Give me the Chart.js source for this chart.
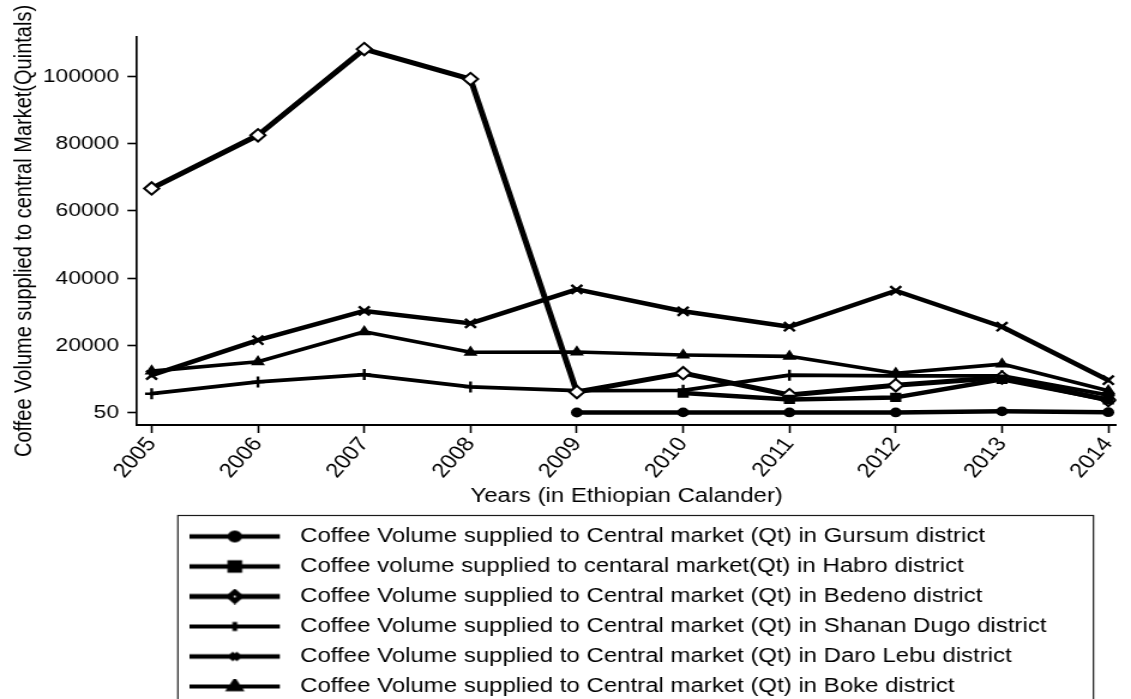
<!DOCTYPE html>
<html><head><meta charset="utf-8">
<script src="https://cdn.jsdelivr.net/npm/chart.js@4/dist/chart.umd.min.js"></script>
<style>html,body{margin:0;padding:0;background:#fff;overflow:hidden}</style>
</head><body>
<canvas id="c" width="943" height="699" style="display:block;width:1131px;height:699px"></canvas>
<script>
const years = [2005, 2006, 2007, 2008, 2009, 2010, 2011, 2012, 2013, 2014];
const yTickValues = [50, 20000, 40000, 60000, 80000, 100000];

const gursum = [null, null, null, null, 120, 150, 130, 140, 450, 200];
const habro  = [null, null, null, null, null, 5900, 4000, 4600, 10000, 3900];
const bedeno = [66700, 82500, 108100, 99200, 6200, 11800, 5300, 8200, 10500, 3800];
const shanan = [5700, 9200, 11400, 7700, 6600, 6700, 11200, 11000, 11000, 5300];
const daro   = [11200, 21600, 30300, 26600, 36700, 30200, 25600, 36300, 25600, 9700];
const boke   = [12400, 15200, 24100, 18000, 18100, 17200, 16800, 11800, 14500, 6600];

const seriesLabels = [
  'Coffee Volume supplied to Central market (Qt) in Gursum district',
  'Coffee volume supplied to centaral market(Qt) in Habro district',
  'Coffee Volume supplied to Central market (Qt) in Bedeno district',
  'Coffee Volume supplied to Central market (Qt) in Shanan Dugo district',
  'Coffee Volume supplied to Central market (Qt) in Daro Lebu district',
  'Coffee Volume supplied to Central market (Qt) in Boke district'
];
const seriesValues = [gursum, habro, bedeno, shanan, daro, boke];
const xTitle = 'Years (in Ethiopian Calander)';
const yTitle = 'Coffee Volume supplied to central Market(Quintals)';

const FONT = "'Liberation Sans', Arial, Helvetica, sans-serif";
const styles = [
  {pointStyle: 'circle',   lineWidth: 4.5, radius: 4.9, fill: '#000', pbw: 0,   lr: 3.9, lw: 4.4},
  {pointStyle: 'rect',     lineWidth: 4.5, radius: 6.6, fill: '#000', pbw: 0,   lr: 5.6, lw: 4.4},
  {pointStyle: 'rectRot',  lineWidth: 5.0, radius: 6.2, fill: '#fff', pbw: 2.0, lr: 4.6, lw: 4.8},
  {pointStyle: 'cross',    lineWidth: 3.8, radius: 5.5, fill: '#000', pbw: 2.4, lr: 4.6, lw: 4.0},
  {pointStyle: 'crossRot', lineWidth: 4.5, radius: 6.4, fill: '#000', pbw: 2.4, lr: 4.6, lw: 4.4},
  {pointStyle: 'triangle', lineWidth: 3.6, radius: 6.8, fill: '#000', pbw: 0,   lr: 5.6, lw: 3.8}
];

function makeSample(st) {
  const cv = document.createElement('canvas');
  cv.width = 82; cv.height = 16;
  const c = cv.getContext('2d');
  c.strokeStyle = '#000';
  c.lineWidth = st.lw;
  c.beginPath(); c.moveTo(0, 8); c.lineTo(75, 8); c.stroke();
  c.fillStyle = st.fill;
  c.strokeStyle = '#000';
  Chart.helpers.drawPoint(c, {pointStyle: st.pointStyle, rotation: 0, radius: st.lr,
    borderWidth: st.pbw > 0 ? st.pbw : 0.01}, 37.5, 8);
  return cv;
}
const samples = styles.map(makeSample);

const datasets = seriesValues.map((vals, i) => ({
  label: seriesLabels[i],
  data: years.map((yr, j) => ({x: yr, y: vals[j]})),
  borderColor: '#000',
  backgroundColor: styles[i].fill,
  borderWidth: styles[i].lineWidth,
  borderJoinStyle: 'round',
  borderCapStyle: 'round',
  tension: 0,
  pointStyle: styles[i].pointStyle,
  pointRadius: styles[i].radius,
  pointHoverRadius: styles[i].radius,
  pointBackgroundColor: styles[i].fill,
  pointBorderColor: '#000',
  pointBorderWidth: styles[i].pbw,
  spanGaps: false
}));

const legendPlacer = {
  id: 'legendPlacer',
  afterLayout(chart) {
    const L = chart.legend;
    const h = L.height;
    L.left = 148.3; L.right = 911.7; L.width = L.right - L.left;
    L.top = 516.5; L.bottom = L.top + h;
  },
  afterDraw(chart) {
    const ctx = chart.ctx;
    ctx.save();
    ctx.strokeStyle = '#1a1a1a';
    ctx.lineWidth = 1.2;
    ctx.strokeRect(148.3, 515.5, 911.7 - 148.3, 400);
    ctx.restore();
  }
};

new Chart(document.getElementById('c'), {
  type: 'line',
  data: {datasets},
  options: {
    responsive: false,
    devicePixelRatio: 1,
    animation: false,
    events: [],
    layout: {padding: {top: 37, left: 0, right: 0, bottom: 0}, autoPadding: false},
    plugins: {
      tooltip: {enabled: false},
      legend: {
        position: 'bottom',
        align: 'start',
        labels: {
          font: {family: FONT, size: 20},
          color: '#000',
          usePointStyle: true,
          pointStyleWidth: 82,
          padding: 10,
          generateLabels: (chart) => chart.data.datasets.map((ds, i) => ({
            text: ds.label,
            pointStyle: samples[i],
            datasetIndex: i,
            hidden: false,
            lineWidth: 0,
            fillStyle: '#000',
            strokeStyle: '#000',
            fontColor: '#000'
          }))
        }
      }
    },
    scales: {
      x: {
        type: 'linear',
        min: 2004.862,
        max: 2014.075,
        afterBuildTicks: (s) => { s.ticks = years.map(v => ({value: v})); },
        afterFit: (s) => { s.height = 84; },
        ticks: {
          autoSkip: false,
          minRotation: 52, maxRotation: 52,
          padding: 0,
          color: '#000',
          font: {family: FONT, size: 20},
          callback: (v) => String(v)
        },
        grid: {display: true, drawOnChartArea: false, drawTicks: true, tickLength: 8, tickColor: '#000', tickWidth: 1.6},
        border: {display: true, color: '#000', width: 2},
        title: {display: true, text: xTitle, color: '#000', font: {family: FONT, size: 20}, padding: {top: 0, bottom: 1}}
      },
      y: {
        type: 'linear',
        min: -3600,
        max: 111700,
        afterBuildTicks: (s) => { s.ticks = yTickValues.map(v => ({value: v})); },
        afterFit: (s) => { s.width = 114.2; },
        ticks: {
          padding: 7,
          color: '#000',
          font: {family: FONT, size: 19},
          callback: (v) => String(v)
        },
        grid: {display: true, drawOnChartArea: false, drawTicks: true, tickLength: 8, tickColor: '#000', tickWidth: 1.6},
        border: {display: true, color: '#000', width: 1.7},
        title: {display: true, text: yTitle, color: '#000', font: {family: FONT, size: 20}, padding: {top: 8, bottom: 0}}
      }
    }
  },
  plugins: [legendPlacer]
});
</script>
</body></html>
